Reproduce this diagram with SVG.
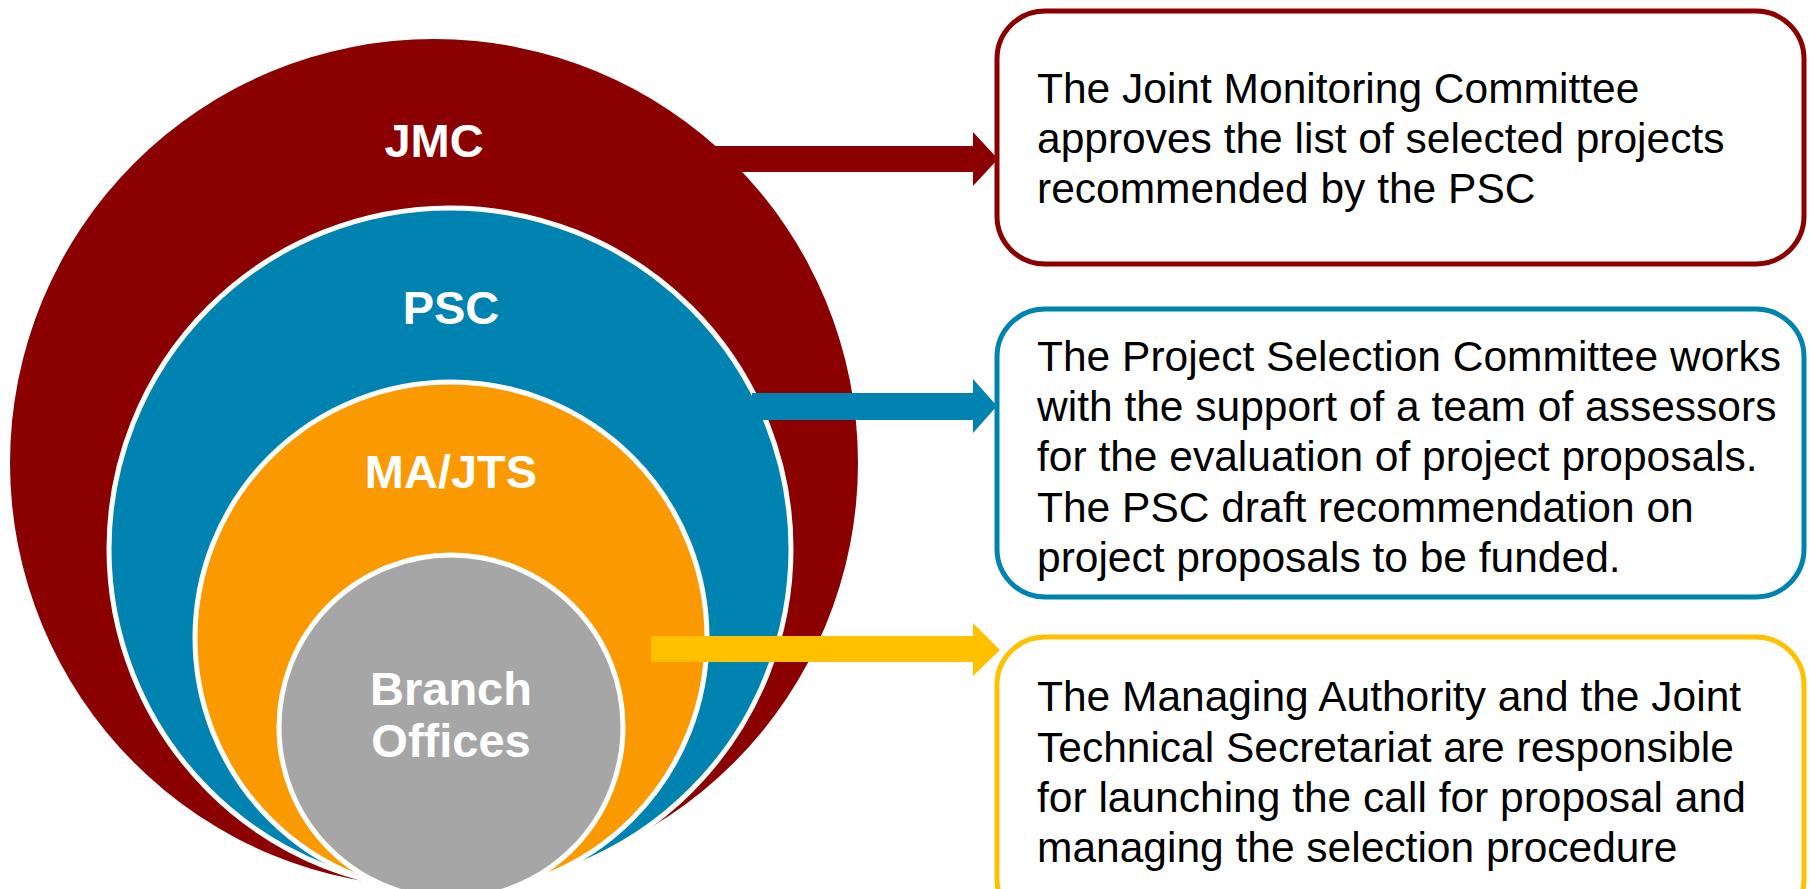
<svg xmlns="http://www.w3.org/2000/svg" width="1810" height="889" viewBox="0 0 1810 889">
<style>
.lbl{font-family:"Liberation Sans",Arial,sans-serif;font-weight:bold;font-size:47px;fill:#fff;text-anchor:middle}
.txt{font-family:"Liberation Sans",Arial,sans-serif;font-size:42.5px;fill:#000}
.ring{stroke:#fff;stroke-width:5}
.box{fill:#fff;stroke-width:5}
</style>
<rect width="1810" height="889" fill="#fff"/>
<g id="jmc">
<circle cx="434" cy="463" r="424" fill="#8B0000"/>
<text class="lbl" x="434" y="157">JMC</text>
</g>
<g id="psc">
<circle class="ring" cx="450" cy="549" r="341" fill="#0083B0"/>
<text class="lbl" x="451" y="324">PSC</text>
</g>
<g id="majts">
<circle class="ring" cx="451" cy="638" r="256" fill="#FB9A00"/>
<text class="lbl" x="451" y="488">MA/JTS</text>
</g>
<g id="branch">
<circle class="ring" cx="451" cy="727" r="172" fill="#A6A6A6"/>
<text class="lbl" x="451" y="705">Branch</text>
<text class="lbl" x="451" y="757">Offices</text>
</g>
<g id="connectors">
<polygon fill="#8B0000" points="700,146 973,146 973,132 998,159 973,186 973,172 700,172"/>
<polygon fill="#0083B0" points="752,393 973,393 973,379 997,406 973,433 973,420 752,420"/>
<polygon fill="#FFC000" points="651,636 973,636 973,623 1000,650 973,676 973,662 651,662"/>
</g>
<g id="box-jmc">
<rect class="box" x="997" y="11" width="807" height="253" rx="48" stroke="#8B0000"/>
<text class="txt" x="1037"><tspan x="1037" y="103">The Joint Monitoring Committee</tspan><tspan x="1037" y="153">approves the list of selected projects</tspan><tspan x="1037" y="203">recommended by the PSC</tspan></text>
</g>
<g id="box-psc">
<rect class="box" x="997" y="309" width="807" height="288" rx="48" stroke="#0083B0"/>
<text class="txt" x="1037"><tspan x="1037" y="371">The Project Selection Committee works</tspan><tspan x="1037" y="421">with the support of a team of assessors</tspan><tspan x="1037" y="471">for the evaluation of project proposals.</tspan><tspan x="1037" y="522">The PSC draft recommendation on</tspan><tspan x="1037" y="572">project proposals to be funded.</tspan></text>
</g>
<g id="box-majts">
<rect class="box" x="997" y="637" width="807" height="290" rx="48" stroke="#FFC000"/>
<text class="txt" x="1037"><tspan x="1037" y="711">The Managing Authority and the Joint</tspan><tspan x="1037" y="762">Technical Secretariat are responsible</tspan><tspan x="1037" y="812">for launching the call for proposal and</tspan><tspan x="1037" y="862">managing the selection procedure</tspan></text>
</g>
</svg>
